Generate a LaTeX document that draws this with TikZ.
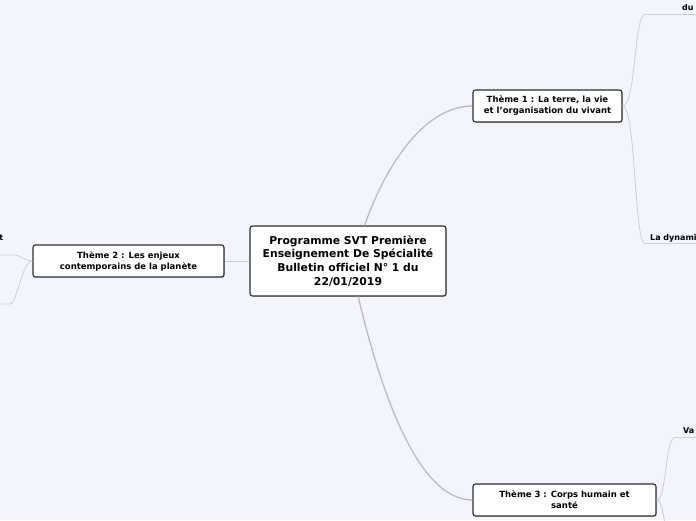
\documentclass[tikz,border=0pt]{standalone}
\usepackage{fontspec}
\setmainfont[Ligatures={TeX,NoCommon}]{DejaVu Sans}
\usepackage{tikz}
\usetikzlibrary{positioning,shadows}
\definecolor{MapBack}{RGB}{242,245,253}
\definecolor{MapEdge}{RGB}{45,45,45}
\definecolor{MapLink}{RGB}{205,205,210}
\definecolor{MapTrunk}{RGB}{188,188,190}

\begin{document}
\begin{tikzpicture}[x=1pt,y=-1pt,
  topic/.style={draw=MapEdge,line width=1.1pt,fill=white,rounded corners=2.5pt,
    align=center,inner sep=0pt,font=\bfseries\fontsize{8.5}{11}\selectfont,
    drop shadow={shadow xshift=0.9pt,shadow yshift=-0.9pt,opacity=0.35}},
  sub/.style={font=\bfseries\fontsize{8}{9.5}\selectfont,inner sep=0pt},
  link/.style={draw=MapLink,line width=0.8pt},
  trunk/.style={draw=MapTrunk,line width=1.3pt}]
  \fill[MapBack] (0,0) rectangle (696,520);
  \useasboundingbox (0,0) rectangle (696,520);
  \clip (0,0) rectangle (696,520);

  % central topic and the three themes
  \node[topic,minimum width=196pt,minimum height=70pt,
    font=\bfseries\fontsize{10.8}{13.8}\selectfont] (prog) at (348,261)
    {Programme SVT Première\\Enseignement De Spécialité\\Bulletin officiel N° 1 du\\22/01/2019};
  \node[topic,minimum width=149pt,minimum height=32pt] (th1) at (547.5,106)
    {Thème 1 : La terre, la vie\\et l'organisation du vivant};
  \node[topic,minimum width=191pt,minimum height=32pt] (th2) at (128.5,261)
    {Thème 2 : Les enjeux\\contemporains de la planète};
  \node[topic,minimum width=183pt,minimum height=32pt] (th3) at (564.5,500)
    {Thème 3 : Corps humain et\\santé};

  % sub topics, cut by the frame
  \node[sub,anchor=base west] (du) at (682,10.5) {du};
  \node[sub,anchor=base west] (dyn) at (650,240) {La dynami};
  \node[sub,anchor=base west] (var) at (683,433.5) {Va};
  \node[sub,anchor=base east] (envt) at (3.5,240) {t};
  \coordinate (du-a) at (645,14.5);   \coordinate (du-b) at (697,14.5);
  \coordinate (dyn-a) at (645,243.5); \coordinate (dyn-b) at (697,243.5);
  \coordinate (var-a) at (675,437.5); \coordinate (var-b) at (697,437.5);
  \coordinate (low-a) at (675,565);
  \coordinate (envt-a) at (13,255);   \coordinate (envt-b) at (-1,255);
  \coordinate (two-a) at (10,304);    \coordinate (two-b) at (-1,304);

  % main branches
  \draw[trunk] (prog.65) .. controls (386,164) and (425,106) .. (th1.west);
  \draw[trunk] (prog.-74) .. controls (378,380) and (415,500) .. (th3.west);
  \draw[link] (prog.west) -- (th2.east);

  % sub branches
  \draw[link] (th1.east) .. controls (636,106) and (634,14.5) .. (du-a) -- (du-b);
  \draw[link] (th1.east) .. controls (636,106) and (634,243.5) .. (dyn-a) -- (dyn-b);
  \draw[link] (th3.east) .. controls (667,500) and (665,437.5) .. (var-a) -- (var-b);
  \draw[link] (th3.east) .. controls (667,500) and (665,565) .. (low-a);
  \draw[link] (th2.west) .. controls (24,261) and (22,255) .. (envt-a) -- (envt-b);
  \draw[link] (th2.west) .. controls (22,261) and (17,304) .. (two-a) -- (two-b);
\end{tikzpicture}
\end{document}
